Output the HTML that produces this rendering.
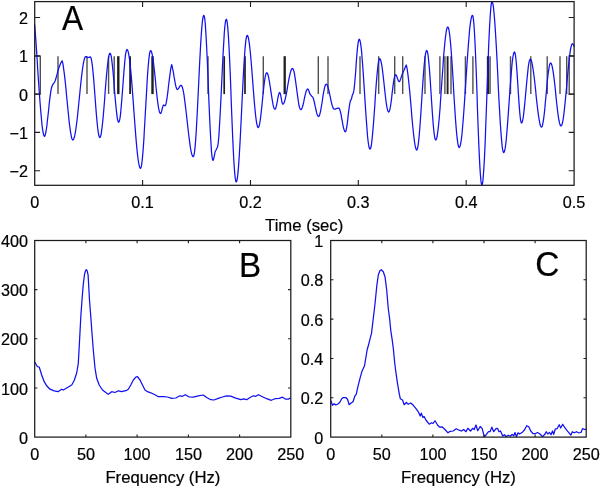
<!DOCTYPE html>
<html><head><meta charset="utf-8"><title>Figure</title>
<style>
html,body{margin:0;padding:0;background:#fff;}
svg{display:block;}
text{font-family:"Liberation Sans",sans-serif;fill:#000;stroke:#000;stroke-width:0.2px;}
.t{font-size:16.2px;}
.l{font-size:16.7px;}
.L{font-size:34.2px;}
.ax{fill:none;stroke:#1c1c1c;stroke-width:1.25;}
.tk{stroke:#1c1c1c;stroke-width:1.1;fill:none;}
.c{fill:none;stroke:#1010f0;stroke-width:1.25;stroke-linejoin:round;stroke-linecap:round;}
.sp{stroke:#505050;stroke-width:1.4;fill:none;}
.spk{stroke:#1e1e1e;fill:none;}
</style></head><body>
<svg width="600" height="487" viewBox="0 0 600 487">
<rect width="600" height="487" fill="#fff"/>

<g class="sp">
<path d="M58.0 56.2V94.1M87.0 56.2V94.1M108.6 56.2V94.1M114.2 56.2V94.1M208.0 56.2V94.1M263.3 56.2V94.1M318.3 56.2V94.1M328.0 56.2V94.1M360.0 56.2V94.1M378.7 56.2V94.1M394.7 56.2V94.1M402.7 56.2V94.1M425.0 56.2V94.1M439.9 56.2V94.1M444.9 56.2V94.1M451.0 56.2V94.1M465.4 56.2V94.1M472.9 56.2V94.1M490.1 56.2V94.1M510.5 56.2V94.1M530.8 56.2V94.1M547.2 56.2V94.1M560.0 56.2V94.1M566.7 56.2V94.1"/>
<path d="M34.7 56.2H40.3V94.1H34.7"/>
<path d="M574.1 56.2H569.2V94.1H574.1"/>
</g>
<path class="spk" stroke-width="2.4" d="M118.3 56.2V94.1"/>
<path class="spk" stroke-width="1.8" d="M130.1 56.2V94.1"/>
<path class="spk" stroke-width="2.4" d="M152.5 56.2V94.1"/>
<path class="spk" stroke-width="1.7" d="M224.2 56.2V94.1"/>
<path class="spk" stroke-width="1.7" d="M245.0 56.2V94.1"/>
<path class="spk" stroke-width="2.3" d="M284.7 56.2V94.1"/>
<path class="spk" stroke-width="1.9" d="M447.6 56.2V94.1"/>
<path class="spk" stroke-width="2.3" d="M488.0 56.2V94.1"/>
<path class="c" d="M34.7 25.0 L35.2 31.6 L35.7 38.4 L36.2 45.6 L36.7 52.9 L37.2 60.3 L37.6 67.8 L38.1 75.2 L38.6 82.5 L39.1 89.7 L39.6 96.6 L40.1 103.2 L40.6 109.4 L41.1 115.1 L41.6 120.3 L42.0 124.9 L42.5 128.8 L43.0 132.0 L43.5 134.3 L44.0 135.8 L44.5 136.3 L45.0 135.8 L45.4 134.3 L45.9 132.0 L46.4 129.0 L46.9 125.5 L47.3 121.5 L47.8 117.2 L48.3 112.8 L48.8 108.3 L49.2 103.8 L49.7 99.6 L50.2 95.8 L50.7 92.4 L51.1 89.6 L51.6 87.5 L52.1 86.0 L52.6 84.9 L53.1 84.1 L53.6 83.4 L54.1 82.8 L54.6 82.0 L55.1 81.0 L55.5 79.7 L56.0 78.3 L56.4 76.6 L56.9 74.9 L57.4 73.1 L57.8 71.4 L58.3 69.8 L58.7 68.3 L59.2 67.0 L59.7 65.7 L60.2 64.5 L60.7 63.3 L61.2 62.3 L61.7 61.4 L62.2 60.8 L62.7 62.8 L63.2 65.4 L63.6 68.6 L64.1 72.2 L64.6 76.2 L65.1 80.6 L65.6 85.2 L66.1 90.1 L66.5 95.0 L67.0 100.0 L67.5 105.0 L68.0 110.0 L68.5 114.7 L68.9 119.3 L69.4 123.6 L69.9 127.5 L70.4 131.1 L70.9 134.1 L71.4 136.6 L71.8 138.4 L72.3 139.6 L72.8 140.0 L73.3 139.7 L73.8 138.8 L74.3 137.3 L74.8 135.2 L75.3 132.6 L75.8 129.5 L76.3 125.9 L76.8 122.0 L77.3 117.7 L77.8 113.1 L78.3 108.2 L78.8 103.3 L79.3 98.2 L79.8 93.2 L80.3 88.3 L80.8 83.4 L81.3 78.8 L81.8 74.5 L82.3 70.6 L82.8 67.0 L83.3 63.9 L83.8 61.3 L84.3 59.2 L84.8 57.7 L85.3 56.8 L85.8 56.5 L86.2 56.6 L86.7 56.9 L87.1 57.2 L87.6 57.5 L88.0 57.6 L88.5 57.5 L88.9 57.3 L89.4 57.1 L89.8 56.9 L90.3 56.8 L90.8 57.4 L91.3 59.0 L91.8 61.7 L92.3 65.3 L92.8 69.8 L93.3 75.1 L93.8 80.9 L94.3 87.2 L94.8 93.8 L95.3 100.5 L95.8 107.1 L96.3 113.4 L96.8 119.2 L97.3 124.5 L97.8 129.0 L98.3 132.6 L98.8 135.3 L99.3 136.9 L99.8 137.5 L100.3 137.0 L100.8 135.6 L101.3 133.3 L101.7 130.2 L102.2 126.3 L102.7 121.6 L103.2 116.5 L103.7 110.8 L104.2 104.8 L104.7 98.5 L105.1 92.3 L105.6 86.0 L106.1 80.0 L106.6 74.4 L107.1 69.2 L107.6 64.5 L108.1 60.6 L108.5 57.5 L109.0 55.2 L109.5 53.8 L110.0 53.3 L110.5 53.8 L111.0 55.4 L111.5 57.9 L111.9 61.4 L112.4 65.6 L112.9 70.5 L113.4 76.0 L113.9 81.8 L114.3 87.8 L114.8 93.7 L115.3 99.5 L115.8 105.0 L116.3 109.9 L116.8 114.1 L117.2 117.6 L117.7 120.1 L118.2 121.7 L118.7 122.2 L119.2 121.6 L119.7 119.7 L120.2 116.8 L120.7 112.7 L121.1 107.8 L121.6 102.1 L122.1 95.8 L122.6 89.2 L123.1 82.5 L123.6 75.9 L124.1 69.6 L124.6 63.9 L125.0 59.0 L125.5 54.9 L126.0 52.0 L126.5 50.1 L127.0 49.5 L127.5 49.9 L128.0 51.1 L128.5 53.1 L129.0 55.8 L129.5 59.3 L130.0 63.4 L130.5 68.1 L131.0 73.4 L131.5 79.2 L132.0 85.4 L132.5 91.9 L133.0 98.6 L133.5 105.4 L134.0 112.4 L134.5 119.2 L135.0 125.9 L135.5 132.4 L136.0 138.6 L136.5 144.4 L137.0 149.7 L137.5 154.4 L138.0 158.5 L138.5 162.0 L139.0 164.7 L139.5 166.7 L140.0 167.9 L140.5 168.3 L141.0 167.6 L141.5 165.7 L141.9 162.5 L142.4 158.1 L142.9 152.6 L143.4 146.1 L143.9 138.9 L144.3 131.0 L144.8 122.5 L145.3 113.8 L145.8 105.1 L146.3 96.4 L146.8 87.9 L147.2 80.0 L147.7 72.8 L148.2 66.3 L148.7 60.8 L149.2 56.4 L149.6 53.2 L150.1 51.3 L150.6 50.6 L151.1 51.0 L151.6 52.1 L152.1 54.0 L152.6 56.6 L153.1 59.8 L153.6 63.6 L154.1 67.8 L154.6 72.3 L155.1 77.1 L155.6 82.0 L156.0 87.0 L156.5 91.8 L157.0 96.3 L157.5 100.5 L158.0 104.3 L158.5 107.5 L159.0 110.1 L159.5 112.0 L160.0 113.1 L160.5 113.5 L161.0 113.1 L161.4 111.9 L161.9 110.2 L162.3 108.3 L162.8 106.6 L163.2 105.4 L163.7 105.0 L164.1 105.2 L164.6 105.6 L165.0 105.8 L165.5 105.3 L166.0 103.9 L166.4 101.7 L166.9 98.8 L167.4 95.5 L167.9 91.7 L168.3 87.8 L168.8 83.7 L169.3 79.6 L169.8 75.8 L170.3 72.2 L170.7 69.1 L171.2 66.5 L171.7 64.7 L172.2 66.4 L172.6 68.5 L173.1 70.9 L173.6 73.6 L174.0 76.4 L174.5 79.2 L175.0 81.9 L175.4 84.3 L175.9 86.4 L176.4 88.1 L176.8 89.1 L177.3 89.5 L177.8 89.3 L178.2 88.9 L178.7 88.2 L179.2 87.4 L179.6 86.6 L180.1 85.9 L180.5 85.5 L181.0 85.3 L181.5 85.6 L182.0 86.4 L182.5 87.8 L183.0 89.7 L183.5 92.1 L184.0 95.0 L184.4 98.2 L184.9 101.9 L185.4 105.8 L185.9 110.0 L186.4 114.3 L186.9 118.8 L187.4 123.2 L187.9 127.7 L188.4 132.0 L188.9 136.2 L189.4 140.1 L189.9 143.8 L190.3 147.0 L190.8 149.9 L191.3 152.3 L191.8 154.2 L192.3 155.6 L192.8 156.4 L193.3 156.7 L193.8 155.9 L194.3 153.6 L194.8 149.7 L195.3 144.4 L195.8 137.8 L196.3 130.1 L196.8 121.3 L197.3 111.8 L197.8 101.7 L198.3 91.3 L198.8 80.7 L199.3 70.3 L199.8 60.2 L200.3 50.7 L200.8 41.9 L201.3 34.2 L201.8 27.6 L202.3 22.3 L202.8 18.4 L203.3 16.1 L203.8 15.3 L204.3 16.3 L204.8 19.2 L205.3 24.0 L205.7 30.6 L206.2 38.7 L206.7 48.2 L207.2 58.7 L207.7 70.0 L208.2 81.9 L208.6 93.8 L209.1 105.7 L209.6 117.0 L210.1 127.5 L210.6 137.0 L211.1 145.1 L211.5 151.7 L212.0 156.5 L212.5 159.4 L213.0 160.4 L213.5 159.7 L213.9 157.9 L214.4 155.5 L214.9 153.0 L215.3 151.2 L215.8 150.5 L216.2 149.9 L216.6 148.6 L217.0 148.0 L217.5 147.1 L218.0 144.5 L218.5 140.2 L219.0 134.4 L219.4 127.2 L219.9 118.8 L220.4 109.5 L220.9 99.4 L221.4 88.9 L221.9 78.3 L222.4 67.8 L222.9 57.7 L223.4 48.4 L223.9 40.0 L224.3 32.8 L224.8 27.0 L225.3 22.7 L225.8 20.1 L226.3 19.2 L226.8 20.2 L227.3 23.2 L227.8 28.1 L228.3 34.7 L228.8 43.0 L229.3 52.8 L229.8 63.6 L230.3 75.4 L230.8 87.9 L231.2 100.6 L231.7 113.3 L232.2 125.8 L232.7 137.6 L233.2 148.4 L233.7 158.2 L234.2 166.5 L234.7 173.1 L235.2 178.0 L235.7 181.0 L236.2 182.0 L236.7 181.3 L237.2 179.0 L237.7 175.4 L238.2 170.4 L238.7 164.1 L239.2 156.7 L239.7 148.3 L240.2 139.1 L240.7 129.3 L241.2 119.1 L241.7 108.7 L242.2 98.2 L242.7 88.0 L243.2 78.2 L243.7 69.0 L244.2 60.6 L244.7 53.2 L245.2 46.9 L245.7 41.9 L246.2 38.3 L246.7 36.0 L247.2 35.3 L247.7 35.8 L248.2 37.2 L248.7 39.5 L249.2 42.6 L249.7 46.6 L250.2 51.2 L250.7 56.5 L251.2 62.2 L251.7 68.4 L252.2 74.8 L252.7 81.4 L253.2 88.0 L253.7 94.4 L254.2 100.6 L254.7 106.3 L255.2 111.6 L255.7 116.2 L256.2 120.2 L256.7 123.3 L257.2 125.6 L257.7 127.0 L258.2 127.5 L258.7 127.0 L259.2 125.7 L259.7 123.4 L260.2 120.4 L260.7 116.6 L261.2 112.3 L261.7 107.6 L262.2 102.7 L262.7 97.6 L263.2 92.7 L263.7 88.0 L264.2 83.7 L264.7 79.9 L265.2 76.9 L265.7 74.6 L266.2 73.3 L266.7 72.8 L267.2 73.1 L267.7 74.0 L268.2 75.5 L268.7 77.6 L269.1 80.0 L269.6 82.9 L270.1 86.0 L270.6 89.3 L271.1 92.7 L271.6 96.0 L272.1 99.1 L272.6 102.0 L273.0 104.4 L273.5 106.5 L274.0 108.0 L274.5 108.9 L275.0 109.2 L275.5 108.8 L275.9 107.6 L276.4 105.8 L276.9 103.4 L277.4 100.9 L277.8 98.3 L278.3 95.9 L278.8 94.1 L279.2 92.9 L279.7 92.5 L280.1 93.1 L280.6 94.7 L281.0 97.0 L281.5 99.7 L281.9 102.0 L282.4 103.6 L282.8 104.2 L283.3 104.0 L283.8 103.3 L284.3 102.3 L284.7 100.8 L285.2 99.0 L285.7 96.8 L286.2 94.5 L286.7 91.9 L287.2 89.1 L287.6 86.4 L288.1 83.6 L288.6 80.8 L289.1 78.2 L289.6 75.9 L290.1 73.7 L290.6 71.9 L291.0 70.4 L291.5 69.4 L292.0 68.7 L292.5 68.5 L293.0 68.9 L293.5 69.9 L294.0 71.6 L294.5 73.9 L294.9 76.7 L295.4 79.9 L295.9 83.5 L296.4 87.2 L296.9 91.0 L297.4 94.7 L297.9 98.3 L298.4 101.5 L298.8 104.3 L299.3 106.6 L299.8 108.3 L300.3 109.3 L300.8 109.7 L301.3 109.4 L301.8 108.7 L302.3 107.4 L302.8 105.8 L303.3 103.8 L303.8 101.7 L304.2 99.4 L304.7 97.0 L305.2 94.9 L305.7 92.9 L306.2 91.3 L306.7 90.0 L307.2 89.3 L307.7 89.0 L308.1 89.3 L308.6 90.1 L309.0 91.3 L309.5 92.7 L309.9 93.9 L310.4 94.7 L310.8 95.0 L311.2 95.4 L311.6 96.1 L312.0 96.5 L312.5 96.8 L313.0 97.6 L313.5 99.0 L314.0 100.8 L314.5 103.0 L315.0 105.3 L315.5 107.7 L316.0 110.0 L316.5 112.2 L317.0 114.0 L317.5 115.4 L318.0 116.2 L318.5 116.5 L319.0 116.2 L319.5 115.3 L319.9 113.8 L320.4 111.8 L320.9 109.3 L321.4 106.5 L321.9 103.5 L322.4 100.4 L322.8 97.2 L323.3 94.2 L323.8 91.4 L324.3 88.9 L324.8 86.9 L325.2 85.4 L325.7 84.5 L326.2 84.2 L326.7 84.4 L327.2 85.2 L327.7 86.3 L328.2 87.9 L328.7 89.8 L329.2 91.9 L329.7 94.3 L330.2 96.7 L330.7 99.1 L331.2 101.5 L331.7 103.6 L332.2 105.5 L332.7 107.1 L333.2 108.2 L333.7 109.0 L334.2 109.2 L334.7 109.2 L335.2 109.1 L335.7 108.9 L336.2 108.7 L336.7 108.5 L337.2 108.3 L337.7 108.1 L338.2 108.0 L338.7 108.0 L339.2 108.3 L339.6 109.2 L340.1 110.6 L340.6 112.5 L341.1 114.7 L341.5 117.3 L342.0 119.9 L342.5 122.5 L342.9 125.1 L343.4 127.3 L343.9 129.2 L344.4 130.6 L344.8 131.5 L345.3 131.8 L345.8 131.3 L346.2 129.7 L346.7 127.1 L347.2 123.9 L347.7 120.0 L348.1 115.9 L348.6 111.8 L349.1 108.0 L349.6 104.7 L350.1 102.1 L350.5 100.5 L351.0 100.0 L351.4 99.1 L351.9 97.0 L352.4 94.9 L352.8 94.0 L353.3 93.2 L353.8 90.9 L354.3 87.1 L354.8 82.2 L355.3 76.3 L355.8 69.9 L356.2 63.3 L356.7 56.9 L357.2 51.0 L357.7 46.1 L358.2 42.3 L358.7 40.0 L359.2 39.2 L359.7 39.8 L360.2 41.4 L360.7 44.2 L361.2 47.9 L361.7 52.6 L362.1 58.2 L362.6 64.5 L363.1 71.4 L363.6 78.7 L364.1 86.4 L364.6 94.2 L365.1 102.0 L365.6 109.7 L366.1 117.0 L366.6 123.9 L367.1 130.2 L367.5 135.8 L368.0 140.5 L368.5 144.2 L369.0 147.0 L369.5 148.6 L370.0 149.2 L370.5 148.6 L371.0 147.0 L371.5 144.3 L371.9 140.6 L372.4 135.9 L372.9 130.5 L373.4 124.5 L373.9 117.9 L374.4 111.0 L374.9 104.0 L375.3 96.9 L375.8 90.0 L376.3 83.4 L376.8 77.4 L377.3 72.0 L377.8 67.3 L378.2 63.6 L378.7 60.9 L379.2 59.3 L379.7 58.7 L380.2 59.1 L380.7 60.3 L381.2 62.3 L381.7 64.9 L382.2 68.2 L382.7 72.0 L383.2 76.2 L383.7 80.7 L384.2 85.3 L384.7 90.0 L385.2 94.5 L385.7 98.7 L386.2 102.5 L386.7 105.8 L387.2 108.4 L387.7 110.4 L388.2 111.6 L388.7 112.0 L389.2 111.5 L389.7 110.2 L390.2 107.9 L390.7 105.0 L391.2 101.5 L391.7 97.5 L392.1 93.4 L392.6 89.3 L393.1 85.3 L393.6 81.8 L394.1 78.9 L394.6 76.6 L395.1 75.3 L395.6 74.8 L396.1 75.1 L396.5 75.8 L396.9 76.9 L397.4 78.2 L397.9 79.6 L398.3 80.7 L398.8 81.4 L399.2 81.7 L399.7 81.3 L400.1 80.4 L400.6 79.1 L401.1 77.6 L401.6 76.0 L402.0 74.6 L402.5 73.5 L403.0 72.6 L403.4 71.6 L403.9 70.5 L404.4 69.3 L404.9 68.2 L405.4 67.1 L405.8 66.0 L406.3 65.0 L406.8 67.1 L407.3 70.0 L407.8 73.5 L408.3 77.6 L408.8 82.2 L409.3 87.2 L409.8 92.4 L410.3 97.9 L410.8 103.5 L411.3 109.2 L411.7 114.9 L412.2 120.4 L412.7 125.7 L413.2 130.7 L413.7 135.3 L414.2 139.4 L414.7 143.0 L415.2 145.9 L415.7 148.1 L416.2 149.5 L416.7 150.0 L417.2 149.4 L417.7 147.6 L418.2 144.6 L418.7 140.5 L419.2 135.4 L419.7 129.5 L420.2 122.8 L420.7 115.6 L421.2 108.0 L421.7 100.2 L422.2 92.5 L422.7 84.9 L423.2 77.7 L423.7 71.0 L424.2 65.1 L424.7 60.0 L425.2 55.9 L425.7 52.9 L426.2 51.1 L426.7 50.5 L427.2 51.2 L427.7 53.2 L428.2 56.5 L428.7 61.0 L429.2 66.5 L429.7 72.9 L430.2 79.9 L430.7 87.5 L431.2 95.2 L431.7 103.0 L432.2 110.6 L432.7 117.6 L433.2 124.0 L433.7 129.5 L434.2 134.0 L434.7 137.3 L435.2 139.3 L435.7 140.0 L436.2 139.6 L436.7 138.2 L437.2 136.0 L437.6 133.0 L438.1 129.2 L438.6 124.7 L439.1 119.5 L439.6 113.8 L440.1 107.6 L440.5 101.0 L441.0 94.1 L441.5 87.0 L442.0 80.0 L442.5 72.9 L443.0 66.0 L443.4 59.4 L443.9 53.2 L444.4 47.5 L444.9 42.3 L445.4 37.8 L445.9 34.0 L446.3 31.0 L446.8 28.8 L447.3 27.4 L447.8 27.0 L448.3 27.6 L448.8 29.2 L449.3 32.0 L449.8 35.8 L450.3 40.5 L450.8 46.1 L451.3 52.5 L451.8 59.5 L452.3 67.1 L452.8 75.0 L453.3 83.1 L453.7 91.4 L454.2 99.5 L454.7 107.4 L455.2 115.0 L455.7 122.0 L456.2 128.4 L456.7 134.0 L457.2 138.7 L457.7 142.5 L458.2 145.3 L458.7 146.9 L459.2 147.5 L459.7 147.1 L460.2 145.7 L460.7 143.5 L461.2 140.5 L461.7 136.6 L462.2 132.0 L462.6 126.8 L463.1 120.9 L463.6 114.5 L464.1 107.6 L464.6 100.4 L465.1 92.9 L465.6 85.2 L466.1 77.6 L466.6 69.9 L467.1 62.4 L467.6 55.2 L468.1 48.4 L468.6 41.9 L469.1 36.0 L469.5 30.8 L470.0 26.2 L470.5 22.3 L471.0 19.3 L471.5 17.1 L472.0 15.7 L472.5 15.3 L473.0 16.5 L473.5 19.9 L474.0 25.5 L474.5 33.2 L475.0 42.7 L475.5 53.7 L476.0 66.1 L476.5 79.3 L477.0 93.1 L477.4 107.2 L477.9 121.0 L478.4 134.2 L478.9 146.6 L479.4 157.6 L479.9 167.1 L480.4 174.8 L480.9 180.4 L481.4 183.8 L481.9 185.0 L482.4 184.0 L482.9 180.9 L483.3 175.9 L483.8 169.1 L484.3 160.5 L484.8 150.5 L485.3 139.2 L485.7 126.9 L486.2 113.8 L486.7 100.2 L487.2 86.6 L487.7 73.0 L488.2 59.9 L488.6 47.6 L489.1 36.3 L489.6 26.3 L490.1 17.7 L490.6 10.9 L491.0 5.9 L491.5 2.8 L492.0 1.8 L492.5 2.4 L493.0 4.4 L493.5 7.5 L493.9 11.9 L494.4 17.4 L494.9 23.9 L495.4 31.3 L495.9 39.5 L496.4 48.3 L496.9 57.6 L497.4 67.3 L497.9 77.1 L498.3 87.0 L498.8 96.7 L499.3 106.0 L499.8 114.8 L500.3 123.0 L500.8 130.4 L501.3 136.9 L501.8 142.4 L502.2 146.8 L502.7 149.9 L503.2 151.9 L503.7 152.5 L504.2 152.0 L504.7 150.5 L505.2 148.0 L505.7 144.5 L506.2 140.2 L506.6 135.2 L507.1 129.4 L507.6 123.1 L508.1 116.4 L508.6 109.4 L509.1 102.2 L509.6 95.1 L510.1 88.1 L510.6 81.4 L511.1 75.1 L511.6 69.3 L512.0 64.3 L512.5 60.0 L513.0 56.5 L513.5 54.0 L514.0 52.5 L514.5 52.0 L515.0 52.9 L515.5 55.5 L516.0 59.7 L516.5 65.4 L517.0 72.1 L517.5 79.6 L518.0 87.5 L518.5 95.4 L519.0 102.9 L519.5 109.6 L520.0 115.3 L520.5 119.5 L521.0 122.1 L521.5 123.0 L522.0 122.5 L522.5 121.1 L523.0 118.7 L523.5 115.5 L523.9 111.6 L524.4 107.1 L524.9 102.0 L525.4 96.6 L525.9 91.1 L526.4 85.6 L526.9 80.2 L527.4 75.2 L527.9 70.6 L528.3 66.7 L528.8 63.5 L529.3 61.1 L529.8 59.7 L530.3 59.2 L530.8 59.5 L531.3 60.5 L531.8 62.0 L532.2 64.1 L532.7 66.8 L533.2 70.0 L533.7 73.6 L534.2 77.5 L534.7 81.8 L535.2 86.2 L535.7 90.8 L536.1 95.5 L536.6 100.1 L537.1 104.5 L537.6 108.8 L538.1 112.7 L538.6 116.3 L539.1 119.5 L539.6 122.2 L540.0 124.3 L540.5 125.8 L541.0 126.8 L541.5 127.1 L542.0 126.7 L542.5 125.4 L542.9 123.2 L543.4 120.3 L543.9 116.8 L544.4 112.6 L544.9 107.9 L545.3 102.9 L545.8 97.7 L546.3 92.4 L546.8 87.2 L547.2 82.2 L547.7 77.5 L548.2 73.3 L548.7 69.8 L549.2 66.9 L549.6 64.7 L550.1 63.4 L550.6 63.0 L551.1 63.4 L551.6 64.4 L552.1 66.1 L552.6 68.5 L553.1 71.4 L553.6 74.9 L554.1 78.8 L554.6 83.0 L555.1 87.5 L555.6 92.1 L556.0 96.9 L556.5 101.5 L557.0 106.0 L557.5 110.2 L558.0 114.1 L558.5 117.6 L559.0 120.5 L559.5 122.9 L560.0 124.6 L560.5 125.6 L561.0 126.0 L561.5 125.6 L562.0 124.5 L562.5 122.6 L563.0 120.0 L563.5 116.8 L564.0 112.9 L564.5 108.6 L565.0 103.8 L565.5 98.6 L566.0 93.2 L566.5 87.7 L567.0 82.0 L567.5 76.5 L568.0 71.1 L568.5 65.9 L569.0 61.1 L569.5 56.8 L570.0 52.9 L570.5 49.7 L571.0 47.1 L571.5 45.2 L572.0 44.1 L572.5 43.7 L573.0 44.0 L573.5 44.9 L574.0 46.1 L574.1 46.4"/>
<path class="c" d="M34.5 361.7 L37.5 366.7 L39.2 367.0 L41.7 375.0 L44.2 381.7 L46.7 385.8 L50.0 389.2 L54.2 390.8 L58.0 391.7 L61.7 389.2 L63.3 390.0 L67.5 387.5 L71.7 385.0 L74.2 380.5 L76.7 373.0 L78.3 363.3 L79.5 341.7 L80.8 316.7 L82.0 300.0 L83.3 284.0 L84.6 274.0 L85.6 270.6 L86.3 269.7 L87.1 270.6 L88.1 275.0 L89.5 300.0 L90.8 316.7 L92.0 333.3 L93.3 350.0 L95.0 368.0 L96.7 378.3 L99.2 385.0 L102.5 390.0 L105.8 392.5 L108.3 394.2 L111.7 391.7 L115.0 392.5 L118.3 390.8 L121.7 391.7 L126.7 390.3 L128.3 389.2 L130.8 385.0 L133.3 380.0 L135.8 377.2 L137.5 376.7 L140.0 380.0 L142.5 385.0 L145.0 390.0 L147.5 391.7 L150.8 392.8 L155.0 394.7 L158.3 396.7 L163.3 396.7 L167.5 397.0 L171.7 398.3 L175.8 398.0 L180.0 395.8 L182.5 396.3 L185.3 394.7 L189.2 397.0 L193.3 397.2 L198.3 395.8 L203.2 395.0 L206.7 397.5 L210.8 399.7 L214.0 400.0 L218.3 398.3 L222.5 397.0 L226.7 395.8 L230.8 396.2 L235.0 397.8 L240.8 399.7 L243.7 398.8 L246.7 399.7 L250.0 397.5 L253.3 395.8 L255.8 396.3 L258.3 394.7 L262.5 396.7 L266.7 398.7 L271.3 400.3 L275.0 398.7 L279.2 398.3 L282.5 397.2 L285.8 399.2 L288.3 399.2 L290.4 398.0"/>
<path class="c" d="M330.9 400.8 L332.5 405.3 L334.2 403.7 L335.8 405.0 L337.5 404.2 L339.7 402.5 L341.7 398.7 L343.3 397.5 L345.8 397.5 L347.5 399.2 L349.2 404.7 L350.8 403.3 L353.0 401.7 L355.0 395.8 L356.3 394.2 L357.5 388.3 L360.0 378.3 L362.0 371.2 L364.5 365.8 L366.3 355.0 L367.1 350.0 L368.5 345.0 L370.0 339.2 L371.5 333.3 L372.3 326.7 L373.3 318.3 L374.3 310.0 L375.2 302.0 L376.7 286.7 L378.3 275.0 L380.0 270.5 L381.3 269.7 L383.3 271.7 L385.0 276.7 L386.7 290.0 L388.3 309.0 L389.6 318.3 L390.8 330.8 L392.1 339.2 L393.3 348.3 L394.6 362.0 L395.8 371.7 L397.5 383.3 L399.2 393.3 L400.3 398.7 L402.5 400.0 L404.2 404.7 L406.3 402.5 L408.3 404.2 L410.8 403.0 L413.3 405.3 L415.8 408.3 L418.2 411.6 L420.2 416.0 L421.3 413.2 L422.9 417.5 L424.0 416.4 L426.2 420.5 L429.2 424.2 L431.5 422.7 L433.0 423.5 L435.0 420.8 L437.5 425.0 L439.7 427.2 L442.0 426.8 L445.0 429.5 L448.0 432.8 L450.2 431.3 L453.2 431.0 L456.2 428.7 L459.2 430.2 L461.5 431.0 L463.7 429.5 L466.0 431.7 L467.8 428.3 L470.5 431.0 L472.7 428.3 L474.2 429.5 L476.0 425.0 L477.7 430.7 L480.2 426.5 L482.2 428.7 L484.3 436.7 L486.2 434.7 L488.5 431.7 L490.0 431.7 L491.9 427.2 L493.7 431.7 L496.0 428.7 L497.5 428.3 L499.0 431.7 L500.5 431.0 L502.7 436.0 L504.5 434.7 L506.0 436.7 L508.2 435.2 L510.5 436.2 L512.0 434.3 L513.8 435.8 L515.0 432.5 L516.5 436.7 L518.0 432.8 L519.5 434.0 L522.5 432.2 L524.7 429.5 L526.7 425.7 L528.8 426.8 L530.7 431.0 L533.0 433.7 L535.2 433.7 L537.5 432.5 L539.7 433.7 L542.7 436.7 L545.0 434.0 L546.2 431.7 L547.7 434.0 L549.5 432.5 L551.0 434.7 L552.5 431.0 L553.7 434.3 L555.2 429.2 L557.0 428.7 L559.2 424.7 L560.7 428.0 L562.7 424.2 L564.5 427.2 L566.7 430.2 L569.0 432.8 L570.8 435.2 L572.3 431.7 L574.2 432.8 L576.5 431.7 L578.7 432.8 L581.0 432.5 L582.5 428.7 L584.7 429.5 L586.3 429.2"/>
<rect class="ax" x="34.7" y="1.6" width="539.4" height="183.7"/>
<rect class="ax" x="34.7" y="240.5" width="256.1" height="196.6"/>
<rect class="ax" x="330.7" y="240.5" width="255.5" height="196.6"/>
<path class="tk" d="M142.6 1.6v5.4 M142.6 185.3v-5.4 M250.5 1.6v5.4 M250.5 185.3v-5.4 M358.3 1.6v5.4 M358.3 185.3v-5.4 M466.2 1.6v5.4 M466.2 185.3v-5.4 M34.7 170.7h5.4 M574.1 170.7h-5.4 M34.7 132.4h5.4 M574.1 132.4h-5.4 M34.7 94.1h5.4 M574.1 94.1h-5.4 M34.7 55.8h5.4 M574.1 55.8h-5.4 M34.7 17.5h5.4 M574.1 17.5h-5.4 M85.9 240.5v2.7 M85.9 437.1v-2.7 M137.1 240.5v2.7 M137.1 437.1v-2.7 M188.4 240.5v2.7 M188.4 437.1v-2.7 M239.6 240.5v2.7 M239.6 437.1v-2.7 M381.8 240.5v2.7 M381.8 437.1v-2.7 M432.9 240.5v2.7 M432.9 437.1v-2.7 M484.0 240.5v2.7 M484.0 437.1v-2.7 M535.1 240.5v2.7 M535.1 437.1v-2.7 M34.7 388.0h2.7 M290.8 388.0h-2.7 M34.7 338.8h2.7 M290.8 338.8h-2.7 M34.7 289.6h2.7 M290.8 289.6h-2.7 M330.7 397.8h2.7 M586.2 397.8h-2.7 M330.7 358.5h2.7 M586.2 358.5h-2.7 M330.7 319.1h2.7 M586.2 319.1h-2.7 M330.7 279.8h2.7 M586.2 279.8h-2.7"/>
<g class="t" text-anchor="middle">
<text x="34.7" y="208.4">0</text>
<text x="142.6" y="208.4">0.1</text>
<text x="250.5" y="208.4">0.2</text>
<text x="358.3" y="208.4">0.3</text>
<text x="466.2" y="208.4">0.4</text>
<text x="574.1" y="208.4">0.5</text>
<text x="34.7" y="460.0">0</text>
<text x="330.7" y="460.0">0</text>
<text x="85.9" y="460.0">50</text>
<text x="381.8" y="460.0">50</text>
<text x="137.1" y="460.0">100</text>
<text x="432.9" y="460.0">100</text>
<text x="188.4" y="460.0">150</text>
<text x="484.0" y="460.0">150</text>
<text x="239.6" y="460.0">200</text>
<text x="535.1" y="460.0">200</text>
<text x="290.8" y="460.0">250</text>
<text x="586.2" y="460.0">250</text>
<text class="l" x="304.2" y="230.8">Time (sec)</text>
<text class="l" x="162.9" y="483.2">Frequency (Hz)</text>
<text class="l" x="458.4" y="483.2">Frequency (Hz)</text>
</g>
<g class="t" text-anchor="end">
<text x="27.9" y="24.0">2</text>
<text x="27.9" y="62.3">1</text>
<text x="27.9" y="100.6">0</text>
<text x="27.9" y="138.9">−1</text>
<text x="27.9" y="177.2">−2</text>
<text x="27.9" y="443.7">0</text>
<text x="27.9" y="394.6">100</text>
<text x="27.9" y="345.4">200</text>
<text x="27.9" y="296.2">300</text>
<text x="27.9" y="247.1">400</text>
<text x="323.2" y="443.7">0</text>
<text x="323.2" y="404.4">0.2</text>
<text x="323.2" y="365.1">0.4</text>
<text x="323.2" y="325.7">0.6</text>
<text x="323.2" y="286.4">0.8</text>
<text x="323.2" y="247.1">1</text>
</g>
<text class="L" transform="translate(62 29.5) scale(0.925 1)">A</text>
<text class="L" transform="translate(238.9 276.5) scale(0.97 1)">B</text>
<text class="L" transform="translate(535.2 276.1) scale(0.977 1)">C</text>
</svg>
</body></html>
